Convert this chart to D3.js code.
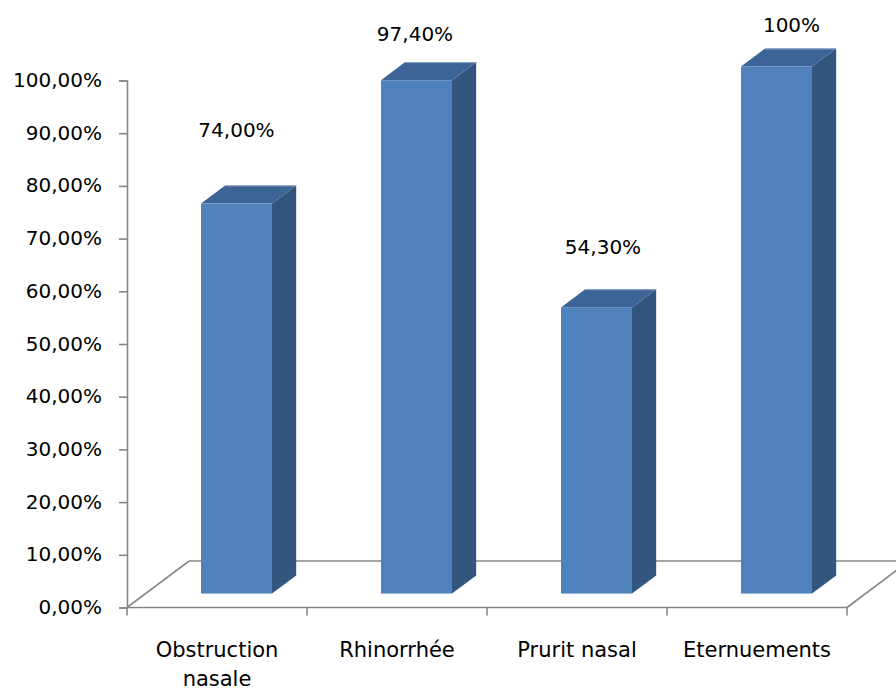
<!DOCTYPE html>
<html>
<head>
<meta charset="utf-8">
<script src="https://cdn.jsdelivr.net/npm/d3@7"></script>
<style>
  html, body { margin: 0; padding: 0; background: #fff; }
  svg { display: block; }
  text { font-family: "DejaVu Sans", sans-serif; fill: #000; }
</style>
</head>
<body>
<svg id="chart" width="896" height="692"></svg>
<script>
// Symptom frequencies
const categories = [["Obstruction", "nasale"], ["Rhinorrhée"], ["Prurit nasal"], ["Eternuements"]];
const values = [0.74, 0.974, 0.543, 1.0];
const valueLabels = ["74,00%", "97,40%", "54,30%", "100%"];
const tickValues = [0, 0.1, 0.2, 0.3, 0.4, 0.5, 0.6, 0.7, 0.8, 0.9, 1.0];
const tickLabels = ["0,00%", "10,00%", "20,00%", "30,00%", "40,00%", "50,00%", "60,00%", "70,00%", "80,00%", "90,00%", "100,00%"];

// Layout of the 3D column box
const plot = { left: 127, right: 847, bottom: 607.5, top: 80.5 };
const depth = { dx: 62, dy: 46.5 };        // full floor depth as a screen offset
const barDepth = [0.3, 0.69];             // front/back of each column within the floor depth
const barInset = 55.4, barWidth = 71;     // column position inside its category band
const labelNudge = [[0, 67], [-1.5, 39], [6.5, 53], [15, 35]]; // value label dx, baseline lift

const svg = d3.select("#chart");
const names = categories.map(c => c.join(" "));

const x = d3.scaleBand().domain(names).range([plot.left, plot.right]).padding(0);
const y = d3.scaleLinear().domain([0, 1]).range([plot.bottom, plot.top]);

const grey = "#868686";

// Floor of the 3D box
const fl = plot.left, fr = plot.right, fb = plot.bottom;
const floorPath = d3.path();
floorPath.moveTo(fl, fb);
floorPath.lineTo(fl + depth.dx, fb - depth.dy);
floorPath.lineTo(fr + depth.dx, fb - depth.dy);
floorPath.moveTo(fr, fb);
floorPath.lineTo(fr + depth.dx, fb - depth.dy);
svg.append("path").attr("d", floorPath.toString())
  .attr("fill", "none").attr("stroke", grey).attr("stroke-width", 1.6);

// Columns
const dFront = barDepth[0], dBack = barDepth[1];
const bars = svg.append("g");
names.forEach((n, i) => {
  const h = y(0) - y(values[i]);
  const x0 = x(n) + barInset + dFront * depth.dx;
  const yb = plot.bottom - dFront * depth.dy;
  const yt = yb - h;
  const ox = (dBack - dFront) * depth.dx, oy = (dBack - dFront) * depth.dy;
  const x1 = x0 + barWidth;
  // side face
  bars.append("path")
    .attr("d", `M${x1},${yb} L${x1 + ox},${yb - oy} L${x1 + ox},${yt - oy} L${x1},${yt} Z`)
    .attr("fill", "#33567F");
  // top face
  bars.append("path")
    .attr("d", `M${x0},${yt} L${x0 + ox},${yt - oy} L${x1 + ox},${yt - oy} L${x1},${yt} Z`)
    .attr("fill", "#3C6496");
  bars.append("line")
    .attr("x1", x0 + ox).attr("y1", yt - oy + 0.5).attr("x2", x1 + ox).attr("y2", yt - oy + 0.5)
    .attr("stroke", "#8FA6C3").attr("stroke-width", 1);
  // front face
  bars.append("rect")
    .attr("x", x0).attr("y", yt).attr("width", barWidth).attr("height", h)
    .attr("fill", "#4F81BD");
  // value label
  svg.append("text")
    .attr("x", x0 + barWidth / 2 + labelNudge[i][0])
    .attr("y", yt - labelNudge[i][1])
    .attr("text-anchor", "middle")
    .attr("font-size", 20)
    .text(valueLabels[i]);
});

// Front floor edge with category ticks
const xAxis = svg.append("g");
xAxis.append("line")
  .attr("x1", plot.left).attr("x2", plot.right).attr("y1", fb).attr("y2", fb)
  .attr("stroke", grey).attr("stroke-width", 1.6);
const xTicks = names.map(n => x(n)).concat([plot.right]);
xAxis.selectAll("line.tick").data(xTicks).join("line")
  .attr("class", "tick")
  .attr("x1", d => d).attr("x2", d => d).attr("y1", fb).attr("y2", fb + 8)
  .attr("stroke", grey).attr("stroke-width", 1.6);

// Category labels
names.forEach((n, i) => {
  const t = svg.append("text")
    .attr("x", x(n) + x.bandwidth() / 2)
    .attr("y", 657)
    .attr("text-anchor", "middle")
    .attr("font-size", 21);
  categories[i].forEach((line, k) => {
    t.append("tspan").attr("x", x(n) + x.bandwidth() / 2).attr("dy", k === 0 ? 0 : 29).text(line);
  });
});

// Value axis
const yAxis = d3.axisLeft(y).tickValues(tickValues)
  .tickFormat((d, i) => tickLabels[i]).tickSize(8).tickPadding(17);
const gy = svg.append("g").attr("transform", `translate(${plot.left},0)`).call(yAxis);
gy.select(".domain").attr("stroke", grey).attr("stroke-width", 1.6);
gy.selectAll(".tick line").attr("stroke", grey).attr("stroke-width", 1.6);
gy.selectAll(".tick text")
  .attr("font-family", "DejaVu Sans, sans-serif")
  .attr("font-size", 20).attr("fill", "#000")
  .attr("dy", "0.3em");
</script>
</body>
</html>
